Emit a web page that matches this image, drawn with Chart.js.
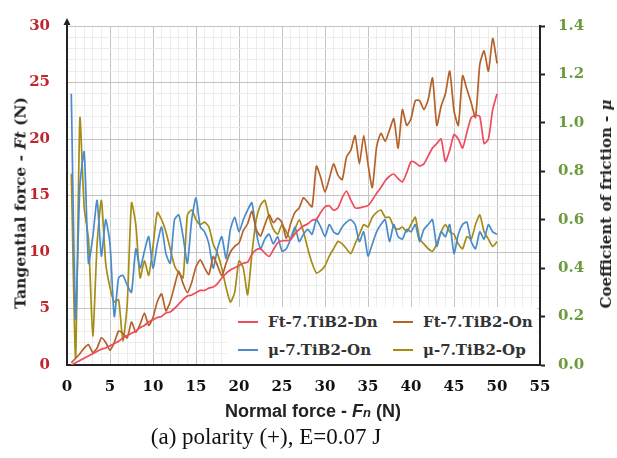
<!DOCTYPE html>
<html>
<head>
<meta charset="utf-8">
<script src="https://cdn.jsdelivr.net/npm/chart.js@4/dist/chart.umd.min.js"></script>
<style>
  html, body { margin: 0; padding: 0; background: #fff; }
  #wrap { position: relative; width: 617px; height: 458px; overflow: hidden; }
  canvas { position: absolute; left: 0; top: 0; }
  .t { position: absolute; white-space: nowrap; color: #222; transform: translate(-50%, -50%); }
  .rot { transform: translate(-50%, -50%) rotate(-90deg); }
  .serifb { font-family: 'DejaVu Serif', serif; font-weight: bold; }
  #legend { position: absolute; left: 227px; top: 307px; width: 310px; height: 57px; background: #fff; }
  .li { position: absolute; font-family: 'DejaVu Serif', serif; font-weight: bold; font-size: 15px; color: #333; line-height: 18px; }
  .sw { display: inline-block; width: 20px; height: 2px; vertical-align: middle; margin-right: 10px; position: relative; top: -1px; }
</style>
</head>
<body>
<div id="wrap">
  <canvas id="chartFriccao" width="617" height="458"></canvas>

  <div class="t rot serifb" style="left:20px; top:203px; font-size:15.5px;">Tangential force - <i>Ft</i> (N)</div>
  <div class="t rot serifb" style="left:606px; top:204px; font-size:15px;">Coefficient of friction - <i>μ</i></div>
  <div class="t" style="left:313px; top:411px; font-family:'Liberation Sans', Arial, sans-serif; font-weight:bold; font-size:18px;">Normal force - <i>F<span style="font-size:13px">n</span></i> (N)</div>
  <div class="t" style="left:266px; top:437px; font-family:'Liberation Serif', serif; font-size:23px; color:#111;">(a) polarity (+), E=0.07 J</div>

  <div id="legend">
    <div class="li" style="left:11px; top:6px;"><span class="sw" style="background:#f04b5c"></span>Ft-7.TiB2-Dn</div>
    <div class="li" style="left:166px; top:6px;"><span class="sw" style="background:#b4622a"></span>Ft-7.TiB2-On</div>
    <div class="li" style="left:11px; top:34px;"><span class="sw" style="background:#4a8bc9"></span>μ-7.TiB2-On</div>
    <div class="li" style="left:166px; top:34px;"><span class="sw" style="background:#a68c14"></span>μ-7.TiB2-Op</div>
  </div>
</div>

<script>
// forca normal (N) - eixo x
const forcaNormal = [
  0.5, 1, 1.5, 2, 2.5, 3, 3.5, 4, 4.5, 5,
  5.5, 6, 6.5, 7, 7.5, 8, 8.5, 9, 9.5, 10,
  10.5, 11, 11.5, 12, 12.5, 13, 13.5, 14, 14.5, 15,
  15.5, 16, 16.5, 17, 17.5, 18, 18.5, 19, 19.5, 20,
  20.5, 21, 21.5, 22, 22.5, 23, 23.5, 24, 24.5, 25,
  25.5, 26, 26.5, 27, 27.5, 28, 28.5, 29, 29.5, 30,
  30.5, 31, 31.5, 32, 32.5, 33, 33.5, 34, 34.5, 35,
  35.5, 36, 36.5, 37, 37.5, 38, 38.5, 39, 39.5, 40,
  40.5, 41, 41.5, 42, 42.5, 43, 43.5, 44, 44.5, 45,
  45.5, 46, 46.5, 47, 47.5, 48, 48.5, 49, 49.5, 50
];

// Ft-7.TiB2-Dn (N)
const ftDn = [
  0.0, 0.2, 0.4, 0.6, 0.8, 1.0, 1.2, 1.4, 1.5, 1.7,
  1.9, 2.1, 2.4, 2.6, 2.8, 3.0, 3.3, 3.5, 3.8, 4.0,
  4.2, 4.3, 4.6, 4.7, 5.0, 5.4, 5.8, 6.1, 6.2, 6.4,
  6.6, 6.6, 6.8, 6.9, 7.2, 7.7, 8.1, 8.4, 8.6, 8.8,
  9.0, 9.1, 9.8, 10.2, 10.3, 9.9, 9.6, 10.2, 10.8, 11.0,
  11.0, 11.1, 11.6, 12.0, 12.3, 12.5, 12.8, 12.9, 13.5, 14.0,
  14.1, 13.7, 13.9, 14.8, 15.4, 14.6, 13.9, 13.9, 14.0, 14.1,
  14.6, 15.2, 15.7, 16.3, 16.7, 16.9, 16.5, 16.2, 17.0, 18.0,
  17.9, 17.6, 17.8, 18.5, 19.2, 19.6, 20.0, 18.0, 19.0, 20.4,
  20.0, 19.2, 20.6, 21.9, 22.1, 22.0, 19.6, 20.0, 22.6, 24.0
];

// Ft-7.TiB2-On (N)
const ftOn = [
  0.2, 0.6, 1.0, 1.5, 1.8, 1.1, 1.5, 2.4, 2.0, 1.3,
  2.0, 3.0, 2.8, 2.4, 3.8, 2.9, 3.6, 4.6, 3.5, 4.2,
  5.6, 6.3, 4.8, 5.6, 7.0, 8.3, 7.2, 6.4, 7.3, 8.7,
  9.3, 8.6, 8.0, 9.6, 8.8, 7.9, 9.0, 10.0, 10.5, 10.8,
  11.9, 12.5, 13.6, 12.0, 11.4, 12.4, 13.3, 12.6, 13.0, 12.6,
  11.2, 12.5, 13.5, 13.9, 14.8, 14.4, 14.0, 17.6, 16.6, 15.3,
  16.5, 17.8, 16.8, 16.4, 18.4, 19.0, 20.3, 17.8, 20.3, 17.8,
  15.7, 19.3, 20.5, 19.8, 20.8, 21.8, 19.2, 22.6, 21.2, 21.8,
  23.4, 23.4, 22.6, 23.5, 25.4, 21.2, 22.9, 24.0, 26.0, 22.5,
  21.2, 25.6, 24.4, 23.2, 21.9, 26.6, 27.8, 26.0, 28.9, 26.7
];

// μ-7.TiB2-On
const muOn = [
  1.12, 0.19, 0.74, 0.88, 0.42, 0.53, 0.68, 0.45, 0.60, 0.50,
  0.20, 0.36, 0.37, 0.33, 0.30, 0.48, 0.40, 0.47, 0.53, 0.40,
  0.50, 0.57, 0.46, 0.42, 0.60, 0.62, 0.53, 0.42, 0.60, 0.69,
  0.57, 0.55, 0.50, 0.40, 0.48, 0.53, 0.44, 0.56, 0.61, 0.55,
  0.60, 0.64, 0.67, 0.55, 0.48, 0.52, 0.54, 0.50, 0.53, 0.47,
  0.48, 0.52, 0.57, 0.51, 0.54, 0.56, 0.54, 0.60, 0.57, 0.53,
  0.58, 0.55, 0.54, 0.57, 0.59, 0.60, 0.58, 0.51, 0.55, 0.45,
  0.50, 0.55, 0.58, 0.60, 0.51, 0.58, 0.53, 0.52, 0.56, 0.55,
  0.58, 0.51, 0.56, 0.58, 0.60, 0.49, 0.55, 0.53, 0.58, 0.46,
  0.54, 0.58, 0.59, 0.51, 0.48, 0.55, 0.52, 0.58, 0.55, 0.54
];

// μ-7.TiB2-Op
const muOp = [
  0.79, 0.03, 1.02, 0.65, 0.52, 0.12, 0.50, 0.68, 0.42, 0.32,
  0.26, 0.27, 0.10, 0.25, 0.67, 0.58, 0.36, 0.43, 0.37, 0.49,
  0.63, 0.60, 0.55, 0.48, 0.41, 0.38, 0.36, 0.62, 0.64, 0.60,
  0.58, 0.59, 0.57, 0.50, 0.46, 0.40, 0.32, 0.26, 0.30, 0.43,
  0.40, 0.29, 0.46, 0.60, 0.66, 0.68, 0.61, 0.56, 0.54, 0.58,
  0.55, 0.52, 0.56, 0.60, 0.55, 0.48, 0.42, 0.38, 0.39, 0.41,
  0.45, 0.48, 0.51, 0.50, 0.48, 0.46, 0.50, 0.54, 0.58, 0.57,
  0.61, 0.63, 0.64, 0.61, 0.61, 0.57, 0.56, 0.57, 0.55, 0.58,
  0.61, 0.52, 0.50, 0.48, 0.47, 0.50, 0.55, 0.58, 0.55, 0.54,
  0.50, 0.48, 0.53, 0.52, 0.58, 0.62, 0.55, 0.52, 0.49, 0.51
];

const GRID_MAJOR = '#c4c4c4';
const GRID_MINOR = '#ececec';

const pontos = (ys) => forcaNormal.map((x, i) => ({ x, y: ys[i] }));
const gridCor = (ctx) => (ctx.tick && Math.round(ctx.tick.value) % 5 === 0 ? GRID_MAJOR : GRID_MINOR);
const cada5 = (v) => (Math.round(v) % 5 === 0 ? String(v) : '');

const serie = (ys, cor, eixo) => ({
  data: pontos(ys),
  yAxisID: eixo,
  borderColor: cor,
  borderWidth: 1.7,
  pointRadius: 0,
  tension: 0.2,
  fill: false,
});

// seta no topo do eixo da esquerda
const setaEixo = {
  id: 'setaEixo',
  afterDraw(chart) {
    const { ctx, chartArea } = chart;
    const x = chartArea.left;
    const y = chartArea.top;
    ctx.save();
    ctx.fillStyle = '#222';
    ctx.strokeStyle = '#222';
    ctx.lineWidth = 2;
    ctx.beginPath();
    ctx.moveTo(x, y);
    ctx.lineTo(x, y - 4);
    ctx.stroke();
    ctx.beginPath();
    ctx.moveTo(x, y - 8);
    ctx.lineTo(x - 3.5, y - 1);
    ctx.lineTo(x + 3.5, y - 1);
    ctx.closePath();
    ctx.fill();
    ctx.restore();
  },
};

new Chart(document.getElementById('chartFriccao'), {
  type: 'line',
  data: {
    datasets: [
      serie(ftDn, '#f04b5c', 'y'),
      serie(ftOn, '#b4622a', 'y'),
      serie(muOn, '#4a8bc9', 'y1'),
      serie(muOp, '#a68c14', 'y1'),
    ],
  },
  options: {
    responsive: false,
    animation: false,
    devicePixelRatio: 1,
    layout: { padding: { top: 25, bottom: 58, left: 0, right: 0 } },
    plugins: { legend: { display: false }, tooltip: { enabled: false } },
    scales: {
      x: {
        type: 'linear',
        min: 0,
        max: 55,
        afterFit: (s) => { s.height = 35; },
        grid: { color: gridCor, drawTicks: false },
        border: { color: '#222', width: 2 },
        ticks: {
          stepSize: 1,
          autoSkip: false,
          maxRotation: 0,
          padding: 13,
          color: '#111',
          font: { family: 'DejaVu Serif', weight: 'bold', size: 15 },
          callback: cada5,
        },
      },
      y: {
        position: 'left',
        min: 0,
        max: 30,
        afterFit: (s) => { s.width = 67; },
        grid: { color: gridCor, drawTicks: false },
        border: { color: '#222', width: 2 },
        ticks: {
          stepSize: 1,
          autoSkip: false,
          padding: 17,
          color: '#c0262d',
          font: { family: 'DejaVu Serif', weight: 'bold', size: 15 },
          callback: cada5,
        },
      },
      y1: {
        position: 'right',
        min: 0,
        max: 1.4,
        afterFit: (s) => { s.width = 77; },
        grid: { drawOnChartArea: false, drawTicks: true, tickLength: 5, tickColor: '#222', tickWidth: 2 },
        border: { color: '#222', width: 2 },
        ticks: {
          stepSize: 0.2,
          padding: 13,
          color: '#6a9b3c',
          font: { family: 'DejaVu Serif', weight: 'bold', size: 15 },
          callback: (v) => Number(v).toFixed(1),
        },
      },
    },
  },
  plugins: [setaEixo],
});
</script>
</body>
</html>
